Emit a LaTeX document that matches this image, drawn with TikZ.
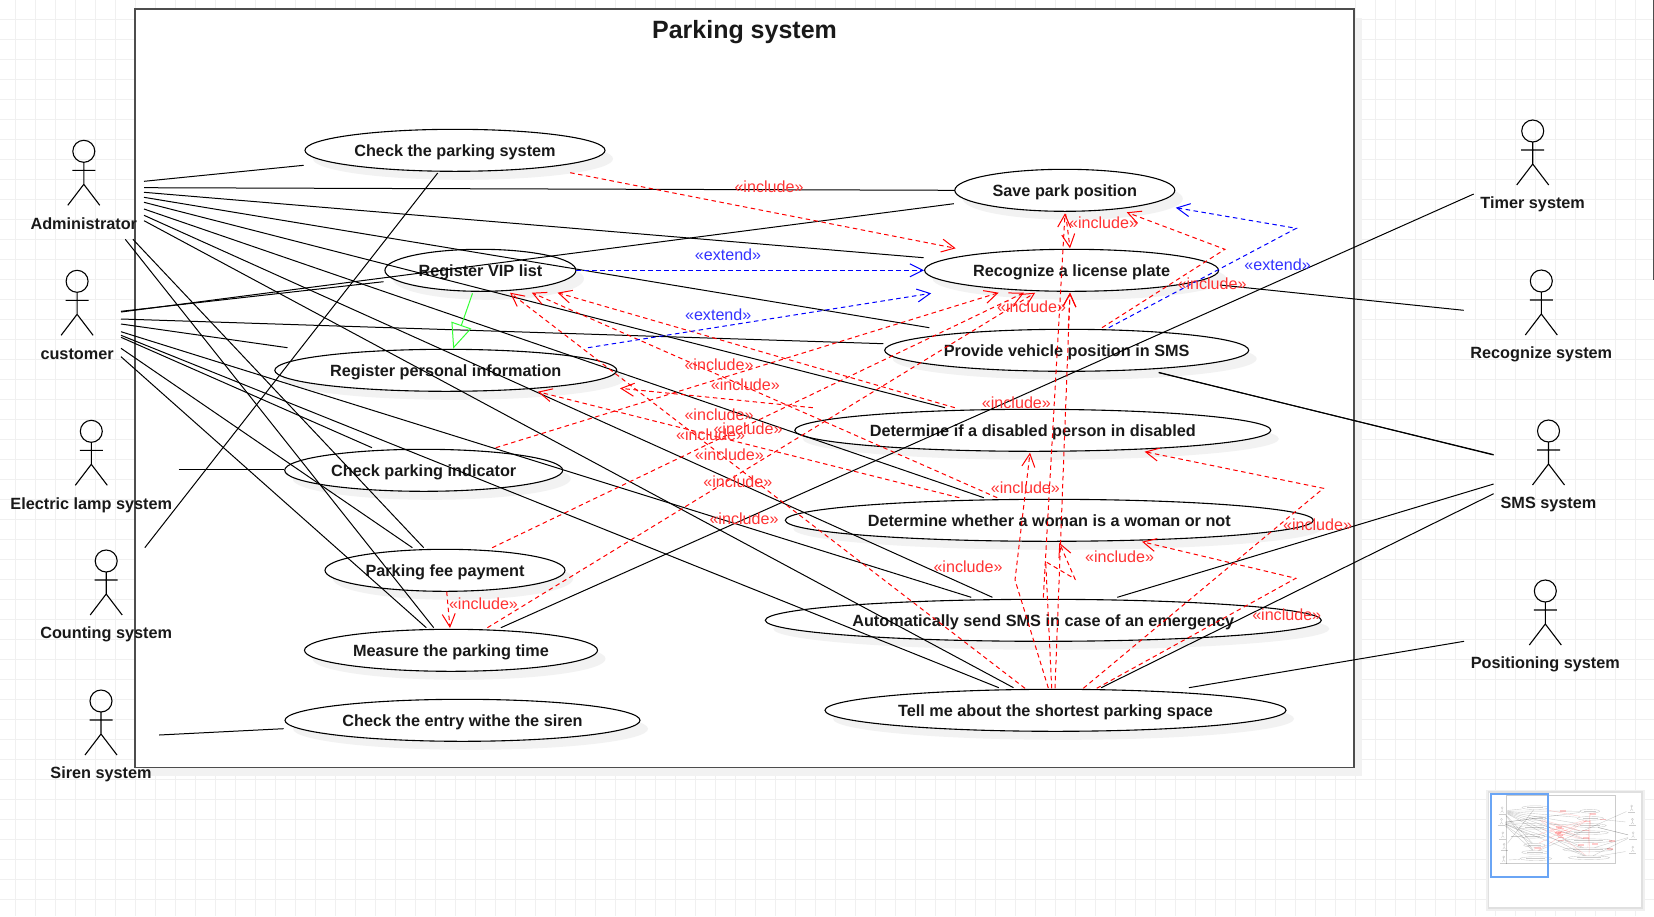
\documentclass[tikz,border=0pt]{standalone}
\usepackage{fontspec}
\setmainfont{Liberation Sans}
\usetikzlibrary{arrows.meta,shapes.geometric}

\definecolor{gridgray}{HTML}{F0F0F0}
\definecolor{shadowgray}{HTML}{F2F2F2}
\definecolor{framegray}{HTML}{4D4D4D}
\definecolor{includetext}{HTML}{FF3333}
\definecolor{extendtext}{HTML}{3333FF}
\definecolor{genericgreen}{HTML}{33FF33}
\definecolor{viewblue}{HTML}{6AA5F5}

\tikzset{
    gridline/.style={gridgray,line width=0.9pt},
    assoc/.style={black,line width=1pt},
    usecase/.style={ellipse,draw=black,line width=1.1pt,fill=white,inner sep=0pt,minimum height=42pt,
        text height=15pt,text depth=3pt,font=\fontsize{16.25}{18}\selectfont\bfseries,text=black!90},
    actorline/.style={black,line width=1.1pt},
    actorlabel/.style={font=\fontsize{16.25}{18}\selectfont\bfseries,text=black!90,inner sep=0pt,text height=12pt,text depth=3.5pt},
    includeline/.style={red,line width=1pt,dash pattern=on 4.5pt off 3.5pt,-{Straight Barb[length=13pt,width=13pt,line width=1pt]}},
    extendline/.style={blue,line width=1pt,dash pattern=on 4.5pt off 3.5pt,-{Straight Barb[length=13pt,width=13pt,line width=1pt]}},
    includelabel/.style={font=\fontsize{16.1}{18}\selectfont,text=includetext,inner sep=0pt},
    extendlabel/.style={font=\fontsize{16.1}{18}\selectfont,text=extendtext,inner sep=0pt},
}

% use cases: name / x / y / width / text
\newcommand{\usecaselist}{
    checkpark/455/150.3/300/Check the parking system,
    vip/480.4/270.3/191/Register VIP list,
    personal/445.8/370.3/342/Register personal information,
    indicator/423.7/470.3/278/Check parking indicator,
    fee/445/570.3/240/Parking fee payment,
    measure/451/650.3/293/Measure the parking time,
    entry/462.5/720.3/355/Check the entry withe the siren,
    savepos/1064.8/190.3/220/Save park position,
    plate/1071.6/270.3/294/Recognize a license plate,
    vehicle/1066.7/350.3/364/Provide vehicle position in SMS,
    disabled/1032.8/430.3/476/Determine if a disabled person in disabled,
    woman/1049.3/520.3/528/Determine whether a woman is a woman or not,
    emergency/1043.3/620.3/556/Automatically send SMS in case of an emergency,
    shortest/1055.5/710.3/461/Tell me about the shortest parking space}

% actors: name / x / top of head / text
\newcommand{\actorlist}{
    admin/83.8/140.3/Administrator,
    customer/77.1/270.3/customer,
    lamp/91.3/420.3/Electric lamp system,
    counting/106.2/550/Counting system,
    siren/101/690/Siren system,
    timer/1532.7/120/Timer system,
    recognize/1541.3/270/Recognize system,
    sms/1548.5/420/SMS system,
    positioning/1545.3/580/Positioning system}

% associations
\newcommand{\assoclist}{
    144/181.3/303.7/165.3, 144/187.7/954.8/190.3, 144/192.3/923.6/257.7,
    144/197.3/929.4/327.7, 144/202.3/945/407.7, 144/209/983.8/497.7,
    144/215.3/992.4/597.3, 144/220.7/1013.5/687.7,
    125.3/239.3/433.7/627.7, 132.9/239.3/423.7/547.7,
    121/312/953.9/203.7, 121/311.3/383.5/281.7, 121/319/883.4/343.7,
    121/324/287.5/347.7, 121/331.7/971.2/597.3, 121/335.3/998.8/687.7,
    121/337.3/372/447.7, 121/348.3/412.4/547.7, 121/356.7/426.3/627.7,
    144.8/547.7/437.7/173, 178.7/469/283.9/469, 159.2/735/283.6/728.7,
    1473.7/194/500.9/627.7, 1463.7/310.3/1220/285,
    1493.6/454.6/1158.8/372.7, 1493.6/455/1158.8/372.4,
    1493.6/484/1117.3/597.3, 1493.6/493.7/1101.2/687.7,
    1464/641.3/1188.9/687.7}

% straight include arrows
\newcommand{\includelist}{
    570.2/172.7/955.7/248.3, 1065.7/214/1070/248.3, 1025/688.3/510/292.7,
    1043.3/597.7/1065/213.3, 1055/688.3/1070/292.7, 1068.3/328/1070/292.7,
    495.8/447.7/998.6/292.7, 492.2/547.7/1024/292.7, 487.4/627.7/1035.2/292.7,
    446.7/591.7/450/628, 954.8/407.7/557.5/292.7, 997.2/497.7/531.8/292.7,
    959.3/497.7/537.8/391.7, 812.9/407.7/620/388.3}

% include arrows with one bend
\newcommand{\bentlist}{
    1102/327.7/1224.9/249.3/1126.7/212.3,
    1048.3/688/1015/580/1030/452.7,
    1083.3/688.3/1323.4/488.3/1144.6/451.7,
    1096.7/688.3/1295.8/578.3/1142/541.7}

% include labels
\newcommand{\includelabels}{
    769/186.5, 1103.5/223.2, 1212/283.5, 1031.6/307.2, 719/364.8, 745.4/384.8,
    1016.4/403.2, 719/414.8, 748/428.8, 710.6/434.8, 729.4/454.8, 737.9/482.2,
    1025.4/488.2, 744/518.8, 1317.5/524.5, 1119.5/557.2, 968/567.2, 1286.7/614.8,
    483.5/603.8}

\begin{document}
\begin{tikzpicture}[x=1pt,y=-1pt]
    \useasboundingbox (0,0) rectangle (1654,916);

    % Page grid
    \fill[white] (0,0) rectangle (1654,916);
    \foreach \x in {15.7,35.7,...,1650}
        \draw[gridline] (\x,0) -- (\x,916);
    \foreach \y in {19.3,39.3,...,910}
        \draw[gridline] (0,\y) -- (1654,\y);
    \draw[framegray,line width=1pt] (1653.5,0) -- (1653.5,280);

    % System boundary
    \fill[shadowgray] (143,18) rectangle (1362,776);
    \draw[framegray,line width=1.5pt,fill=white] (135,9) rectangle (1354,767.5);
    \node[font=\fontsize{25}{28}\selectfont\bfseries,text=black!90,inner sep=0pt] (title) at (744.5,32) {Parking system};

    % Use cases
    \foreach \n/\x/\y/\w/\t in \usecaselist
        \fill[shadowgray] (\x+8,\y+8.5) ellipse ({\w/2} and 21);
    \foreach \n/\x/\y/\w/\t in \usecaselist
        \node[usecase,minimum width=\w pt] (\n) at (\x,\y) {\t};

    % Actors
    \foreach \n/\x/\y/\t in \actorlist {
        \draw[actorline] (\x,\y+11) circle (11);
        \draw[actorline] (\x,\y+22) -- (\x,\y+44) (\x-11.5,\y+30) -- (\x+11.5,\y+30)
            (\x-16,\y+65) -- (\x,\y+44) -- (\x+16,\y+65);
        \node[actorlabel] (\n) at (\x,\y+84.5) {\t};
    }

    % Associations
    \foreach \sx/\sy/\ex/\ey [count=\i] in \assoclist {
        \coordinate (from\i) at (\sx,\sy);
        \coordinate (to\i) at (\ex,\ey);
        \draw[assoc] (from\i) -- (to\i);
    }

    % Generalization
    \coordinate (vipfoot) at (472.5,293.3);
    \coordinate (personaltop) at (453.2,348.7);
    \draw[genericgreen,line width=1pt,-{Triangle[open,length=25pt,width=21pt,line width=1pt]}] (vipfoot) -- (personaltop);

    % Include and extend arrows
    \foreach \sx/\sy/\ex/\ey [count=\i] in \includelist {
        \coordinate (incfrom\i) at (\sx,\sy);
        \coordinate (incto\i) at (\ex,\ey);
        \draw[includeline] (incfrom\i) -- (incto\i);
    }
    \foreach \sx/\sy/\mx/\my/\ex/\ey [count=\i] in \bentlist {
        \coordinate (bentfrom\i) at (\sx,\sy);
        \coordinate (bentmid\i) at (\mx,\my);
        \coordinate (bentto\i) at (\ex,\ey);
        \draw[includeline] (bentfrom\i) -- (bentmid\i) -- (bentto\i);
    }
    \coordinate (womanfrom) at (1051.7,688.3);
    \coordinate (womana) at (1045.7,561.7);
    \coordinate (womanb) at (1075,579);
    \coordinate (womanto) at (1059.3,542.7);
    \draw[includeline] (womanfrom) -- (womana) -- (womanb) -- (womanto);

    \draw[extendline] (vip) -- (plate);
    \coordinate (extfroma) at (588,347.7);
    \coordinate (exttoa) at (931.2,293.3);
    \draw[extendline] (extfroma) -- (exttoa);
    \coordinate (extfromb) at (1108.8,327.7);
    \coordinate (extmidb) at (1296.3,228.3);
    \coordinate (exttob) at (1175.8,207.7);
    \draw[extendline] (extfromb) -- (extmidb) -- (exttob);

    % Labels on the arrows
    \foreach \x/\y [count=\i] in \includelabels
        \node[includelabel] (inc\i) at (\x,\y) {«include»};
    \node[extendlabel] (exta) at (728,254.8) {«extend»};
    \node[extendlabel] (extb) at (718.2,314.8) {«extend»};
    \node[extendlabel] (extc) at (1277.6,264.8) {«extend»};

    % Overview box
    \fill[black!6] (1485.5,789.5) rectangle (1645,911);
    \fill[black!12] (1487.5,791) rectangle (1643,909);
    \fill[white] (1489.3,792.7) rectangle (1640.7,906.7);
    \begin{scope}[shift={(1494.6,794.2)},scale=.0894,opacity=.2,line width=.4pt]
        \draw[line width=.5pt] (135,9) rectangle (1354,767.5);
        \foreach \sx/\sy/\ex/\ey in \assoclist
            \draw (\sx,\sy) -- (\ex,\ey);
        \foreach \sx/\sy/\ex/\ey in \includelist
            \draw[red] (\sx,\sy) -- (\ex,\ey);
        \foreach \x/\y in \includelabels
            \fill[red] (\x-34,\y-8) rectangle (\x+34,\y+8);
        \foreach \n/\x/\y/\w/\t in \usecaselist {
            \draw (\x,\y) ellipse ({\w/2} and 21);
            \draw[line width=.6pt] (\x-.3*\w,\y) -- (\x+.3*\w,\y);
        }
        \foreach \n/\x/\y/\t in \actorlist {
            \draw (\x,\y+11) circle (11);
            \draw (\x,\y+22) -- (\x,\y+44) (\x-16,\y+65) -- (\x,\y+44) -- (\x+16,\y+65);
            \draw[line width=.6pt] (\x-40,\y+82) -- (\x+40,\y+82);
        }
    \end{scope}
    \draw[viewblue,line width=1.8pt] (1490.7,794.3) rectangle (1548.3,877.3);
\end{tikzpicture}
\end{document}
